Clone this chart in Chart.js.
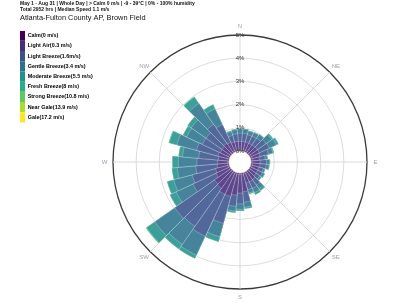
<!DOCTYPE html>
<html>
<head>
<meta charset="utf-8">
<script src="https://cdn.jsdelivr.net/npm/chart.js@4/dist/chart.umd.min.js"></script>
<style>
html,body{margin:0;padding:0;background:#fff;}
#wrap{width:406px;height:305px;}
</style>
</head>
<body>
<div id="wrap"><canvas id="c" width="406" height="305"></canvas></div>
<script>
// ---- data (percent of hours per 10° direction bin, per speed class) ----
const directions = [0,10,20,30,40,50,60,70,80,90,100,110,120,130,140,150,160,170,180,190,200,210,220,230,240,250,260,270,280,290,300,310,320,330,340,350];
const compassLabels = ['N','NE','E','SE','S','SW','W','NW'];
const speedClasses = ['Calm(0 m/s)','Light Air(0.3 m/s)','Light Breeze(1.6m/s)','Gentle Breeze(3.4 m/s)','Moderate Breeze(5.5 m/s)','Fresh Breeze(8 m/s)','Strong Breeze(10.8 m/s)','Near Gale(13.9 m/s)','Gale(17.2 m/s)'];
const calm           = [0.06,0.06,0.06,0.06,0.06,0.06,0.06,0.06,0.06,0.06,0.06,0.06,0.06,0.06,0.06,0.06,0.06,0.06,0.06,0.06,0.06,0.06,0.06,0.06,0.06,0.06,0.06,0.06,0.06,0.06,0.06,0.06,0.06,0.06,0.06,0.06];
const lightAir       = [0.35,0.35,0.35,0.35,0.35,0.38,0.38,0.35,0.30,0.33,0.33,0.30,0.30,0.30,0.38,0.40,0.40,0.75,0.80,0.90,1.00,1.00,0.85,0.80,0.60,0.55,0.45,0.42,0.40,0.45,0.40,0.40,0.45,0.40,0.35,0.35];
const lightBreeze    = [0.35,0.35,0.33,0.34,0.36,0.45,0.48,0.38,0.25,0.28,0.26,0.20,0.23,0.20,0.30,0.32,0.30,0.45,0.47,0.48,1.20,2.00,2.00,2.10,1.10,1.05,0.93,0.90,0.85,0.95,0.85,0.85,1.00,0.85,0.30,0.33];
const gentleBreeze   = [0.20,0.19,0.17,0.18,0.20,0.30,0.33,0.20,0.10,0.13,0.13,0.08,0.10,0.08,0.20,0.20,0.15,0.22,0.23,0.21,0.60,0.90,0.95,1.05,0.80,0.82,0.80,0.80,0.70,0.88,0.75,0.78,1.10,0.75,0.18,0.19];
const moderateBreeze = [0.02,0.02,0.02,0.02,0.02,0.07,0.10,0.05,0.02,0.02,0.02,0.01,0.02,0.02,0.10,0.10,0.05,0.07,0.07,0.07,0.22,0.16,0.25,0.44,0.30,0.30,0.23,0.26,0.17,0.35,0.18,0.19,0.34,0.20,0.04,0.03];
const freshBreeze    = [0,0,0,0,0,0,0,0,0,0,0,0,0,0,0,0,0,0,0,0,0,0,0,0.03,0,0,0,0,0,0.02,0,0,0.02,0,0,0];
const strongBreeze   = [0,0,0,0,0,0,0,0,0,0,0,0,0,0,0,0,0,0,0,0,0,0,0,0,0,0,0,0,0,0,0,0,0,0,0,0];
const nearGale       = [0,0,0,0,0,0,0,0,0,0,0,0,0,0,0,0,0,0,0,0,0,0,0,0,0,0,0,0,0,0,0,0,0,0,0,0];
const gale           = [0,0,0,0,0,0,0,0,0,0,0,0,0,0,0,0,0,0,0,0,0,0,0,0,0,0,0,0,0,0,0,0,0,0,0,0];
const tickValues = [0,1,2,3,4,5];
const titleLines = ['May 1 - Aug 31 | Whole Day | > Calm 0 m/s | -9 - 39\u00B0C | 0% - 100% humidity','Total 2952 hrs | Median Speed 1.1 m/s'];
const stationName = 'Atlanta-Fulton County AP, Brown Field';

// ---- styles ----
const legendColors = ['#440154','#472d7b','#3b528b','#2c728e','#21918c','#28ae80','#5ec962','#addc30','#fde725'];
const barColors    = ['#5a216a','#5d478c','#52679a','#46849c','#3d9f9a','#44b890','#72cf76','#b5df4a','#fde940'];
const FONT = "'Liberation Sans', Arial, Helvetica, sans-serif";
Chart.defaults.font.family = FONT;

const series = [calm, lightAir, lightBreeze, gentleBreeze, moderateBreeze, freshBreeze, strongBreeze, nearGale, gale];
const datasets = [];
let running = directions.map(() => 0);
series.forEach((s, k) => {
  running = running.map((v, i) => v + s[i]);
  datasets.push({
    label: speedClasses[k],
    data: running.slice(),
    backgroundColor: barColors[k],
    borderColor: 'rgba(255,255,255,0.5)',
    borderWidth: 0.5
  });
});

const RMIN = -0.48, RMAX = 5;
const tickFont = { size: 6, family: FONT };

const holePlugin = {
  id: 'hole',
  afterDatasetsDraw(chart) {
    const s = chart.scales.r2, ctx = chart.ctx;
    const rr = s.getDistanceFromCenterForValue(0);
    ctx.save();
    ctx.beginPath();
    ctx.arc(s.xCenter, s.yCenter, rr, 0, Math.PI * 2);
    ctx.fillStyle = '#fff';
    ctx.fill();
    ctx.lineWidth = 0.6;
    ctx.strokeStyle = '#d8d8d8';
    ctx.stroke();
    ctx.restore();
  }
};
const compassPlugin = {
  id: 'compass',
  afterDraw(chart) {
    const s = chart.scales.r2, ctx = chart.ctx;
    ctx.save();
    ctx.font = '6px ' + FONT;
    ctx.fillStyle = '#97a3b0';
    ctx.textAlign = 'center';
    ctx.textBaseline = 'middle';
    compassLabels.forEach((lab, i) => {
      const p = s.getPointPosition(i, s.drawingArea + 8.5);
      ctx.fillText(lab, p.x, p.y);
    });
    ctx.restore();
  }
};

new Chart(document.getElementById('c'), {
  type: 'polarArea',
  data: { labels: compassLabels, datasets },
  options: {
    responsive: false,
    animation: false,
    devicePixelRatio: 1,
    layout: { padding: { left: 20, top: 0, right: 22, bottom: 10 } },
    plugins: {
      title: { display: true, text: titleLines, align: 'start', color: '#111',
               font: { size: 5, weight: 'bold', lineHeight: 1.15 }, padding: { top: 1, bottom: 0 } },
      subtitle: { display: true, text: stationName, align: 'start', color: '#111',
               font: { size: 7.4, lineHeight: 1.1 }, padding: { top: 1, bottom: 9 } },
      legend: {
        position: 'left', align: 'start', fullSize: false, maxWidth: 76,
        labels: {
          boxWidth: 5, boxHeight: 10.2, padding: 0, color: '#000',
          font: { size: 5.4, weight: 'bold' },
          generateLabels: () => speedClasses.map((name, i) => ({
            text: name, fillStyle: legendColors[i], strokeStyle: legendColors[i],
            lineWidth: 0, hidden: false, index: i
          }))
        }
      },
      tooltip: { enabled: false }
    },
    scales: {
      r: {
        type: 'radialLinear', min: RMIN, max: RMAX, startAngle: -5,
        grid: { display: false }, angleLines: { display: false },
        pointLabels: { display: false },
        ticks: { display: true, color: 'rgba(0,0,0,0)', font: tickFont, showLabelBackdrop: false, backdropPadding: 2 }
      },
      r2: {
        type: 'radialLinear', axis: 'r', min: RMIN, max: RMAX, startAngle: 0,
        afterBuildTicks: (s) => { s.ticks = tickValues.map(v => ({ value: v })); },
        grid: {
          circular: true,
          color: (c) => (c.tick && c.tick.value === RMAX) ? '#3a3a3a' : '#d4d4d4',
          lineWidth: (c) => (c.tick && c.tick.value === RMAX) ? 1.3 : 0.8
        },
        angleLines: { display: true, color: '#cfcfcf', lineWidth: 0.8 },
        pointLabels: { display: false },
        ticks: { display: true, z: 1, color: '#333', font: tickFont, showLabelBackdrop: false, backdropPadding: 2,
                 callback: (v) => v + '%' }
      }
    }
  },
  plugins: [holePlugin, compassPlugin]
});
</script>
</body>
</html>
